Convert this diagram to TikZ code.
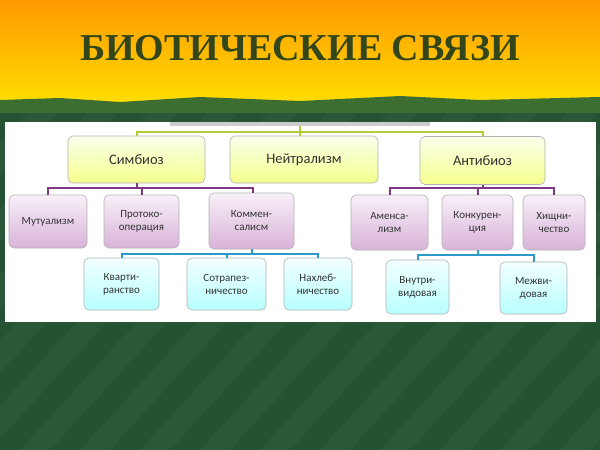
\documentclass[tikz,border=0pt]{standalone}
\usepackage{fontspec}
\setmainfont{Carlito}
\newfontfamily\titlefont{Liberation Serif}
\definecolor{bgdark}{RGB}{38,82,52}
\definecolor{bgstripe}{RGB}{43,88,56}
\definecolor{band}{RGB}{60,110,50}
\definecolor{ttl}{RGB}{50,70,25}
\begin{document}
\begin{tikzpicture}[x=1pt,y=-1pt,
  box/.style={draw=gray!60,rounded corners=5pt,align=center,font=\fontsize{11}{13}\selectfont,text=black!80,line width=0.6pt},
  lvA/.style={box,top color=lime!8!white,bottom color=lime!35!yellow!45!white,font=\fontsize{14.5}{16}\selectfont},
  lvB/.style={box,top color=violet!6!white,bottom color=violet!30!white},
  lvC/.style={box,top color=cyan!5!white,bottom color=cyan!28!white},
  gl/.style={draw=lime!50!olive!80,line width=2pt},
  pl/.style={draw=violet!55!gray,line width=2pt},
  cl/.style={draw=cyan!60!teal,line width=2pt}]
\useasboundingbox (0,0) rectangle (600,450);
\shade[top color=orange!80!yellow,bottom color=yellow!75!orange] (0,0) rectangle (600,105);
\fill[bgdark] (0,105) rectangle (600,450);
\foreach \i in {0,60,...,900}{\fill[bgstripe] (\i-340,450) -- (\i-310,450) -- (\i,110) -- (\i-30,110) -- cycle;}
\fill[band] (0,100) -- (60,98) -- (120,102) -- (200,97) -- (300,101) -- (400,96) -- (480,100) -- (600,97) -- (600,113) -- (0,113) -- cycle;
\node[font=\titlefont\bfseries\fontsize{38}{42}\selectfont,text=ttl] (title) at (300,48) {БИОТИЧЕСКИЕ СВЯЗИ};
\fill[white] (5,122) rectangle (596,322);
\fill[gray!40] (170,122) rectangle (430,126);
% level 1
\node[lvA,minimum width=137,minimum height=47] (sym) at (136.5,159.5) {Симбиоз};
\node[lvA,minimum width=148,minimum height=47] (neu) at (304,159.5) {Нейтрализм};
\node[lvA,minimum width=125,minimum height=48] (ant) at (482.5,160.5) {Антибиоз};
\coordinate (top) at (300,126);
\draw[gl] (top) -- (300,132) -| (sym.north);
\draw[gl] (300,132) -| (ant.north);
\draw[gl] (300,132) -- (neu.north -| 300,0);
% level 2
\node[lvB,minimum width=78,minimum height=53] (mut) at (48,221.5) {Мутуализм};
\node[lvB,minimum width=75,minimum height=53] (pro) at (141.5,221.5) {Протоко-\\операция};
\node[lvB,minimum width=85,minimum height=56] (kom) at (251.5,221) {Коммен-\\салисм};
\node[lvB,minimum width=77,minimum height=55] (ame) at (389.5,222.5) {Аменса-\\лизм};
\node[lvB,minimum width=71,minimum height=55] (kon) at (477.5,222.5) {Конкурен-\\ция};
\node[lvB,minimum width=62,minimum height=55] (hish) at (554,222.5) {Хищни-\\чество};
\draw[pl] (sym.south) -- (136.5,188);
\draw[pl] (mut.north) |- (253,188) -- (253,193);
\draw[pl] (pro.north) -- (141.5,188);
\draw[pl] (ant.south) -- (482.5,188);
\draw[pl] (ame.north) |- (hish.north |- 0,188) -- (hish.north);
\draw[pl] (kon.north) -- (477.5,188);
% level 3
\node[lvC,minimum width=75,minimum height=52] (kva) at (121.5,284) {Кварти-\\ранство};
\node[lvC,minimum width=79,minimum height=52] (sot) at (226.5,284) {Сотрапез-\\ничество};
\node[lvC,minimum width=68,minimum height=52] (nah) at (318,284) {Нахлеб-\\ничество};
\node[lvC,minimum width=63,minimum height=54] (vnu) at (417.5,287) {Внутри-\\видовая};
\node[lvC,minimum width=67,minimum height=52] (mez) at (533.5,288) {Межви-\\довая};
\draw[cl] (kom.south) -- (251.5,253.5);
\draw[cl] (kva.north) |- (nah.north |- 0,253.5) -- (nah.north);
\draw[cl] (sot.north) -- (226.5,253.5);
\draw[cl] (kon.south) -- (477.5,255);
\draw[cl] (vnu.north) |- (mez.north |- 0,255) -- (mez.north);
\end{tikzpicture}
\end{document}
